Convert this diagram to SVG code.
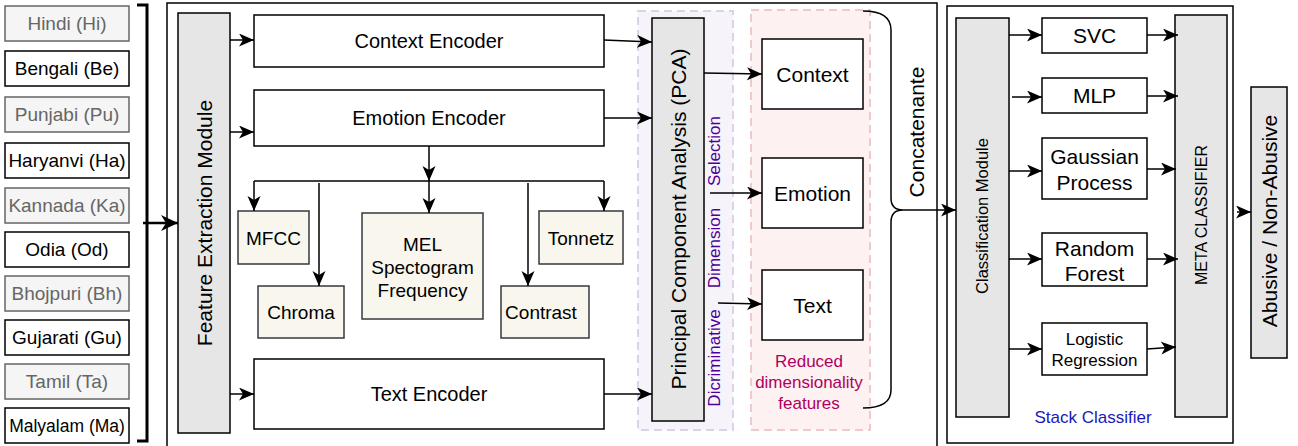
<svg xmlns="http://www.w3.org/2000/svg" width="1298" height="446" viewBox="0 0 1298 446">
<defs>
<marker id="ah" markerUnits="userSpaceOnUse" markerWidth="18" markerHeight="14" refX="15" refY="6.5" orient="auto"><path d="M0,0 L15,6.5 L0,13 L4,6.5 Z" fill="#000"/></marker>
<marker id="ahb" markerUnits="userSpaceOnUse" markerWidth="20" markerHeight="18" refX="17" refY="8" orient="auto"><path d="M0,0 L17,8 L0,16 L5,8 Z" fill="#000"/></marker>
<style>
text{font-family:"Liberation Sans",Arial,sans-serif;text-anchor:middle;dominant-baseline:central;fill:#000}
.lg{fill:#f5f5f5;stroke:#666;stroke-width:1.5}
.lgt{fill:#666}
.lb{fill:#fff;stroke:#000;stroke-width:1.5}
.box{fill:#fff;stroke:#000;stroke-width:1.5}
.mod{fill:#e6e6e6;stroke:#000;stroke-width:1.5}
.ft{fill:#f9f7ed;stroke:#36393d;stroke-width:1.5}
.c{fill:none;stroke:#000;stroke-width:1.5}
.a{fill:none;stroke:#000;stroke-width:1.5;marker-end:url(#ah)}
.f19{font-size:19px}.f20{font-size:20px}.f21{font-size:21px}.f17{font-size:17px}.f16{font-size:16px}
</style>
</defs>
<g id="outer-boxes">
<rect x="167" y="3" width="770" height="450" fill="#fff" stroke="#000" stroke-width="1.5"/>
<rect x="947" y="6" width="286" height="437" fill="#fff" stroke="#000" stroke-width="1.5"/>
</g>
<g id="regions">
<rect x="638" y="11" width="95" height="419" fill="#f6f4fa" stroke="#ddd3e8" stroke-width="2" stroke-dasharray="8 5"/>
<rect x="751" y="10" width="119" height="420" fill="#fdf2f1" stroke="#efcaca" stroke-width="2" stroke-dasharray="8 5"/>
</g>
<g id="languages">
<g id="hindi"><rect class="lg" x="5" y="6" width="124" height="35"/><text class="f19 lgt" x="67" y="23.5">Hindi (Hi)</text></g>
<g id="bengali"><rect class="lb" x="5" y="51" width="124" height="35"/><text class="f19" x="67" y="68.5">Bengali (Be)</text></g>
<g id="punjabi"><rect class="lg" x="5" y="97" width="124" height="35"/><text class="f19 lgt" x="67" y="114.5">Punjabi (Pu)</text></g>
<g id="haryanvi"><rect class="lb" x="5" y="143" width="124" height="35"/><text class="f19" x="67" y="160.5">Haryanvi (Ha)</text></g>
<g id="kannada"><rect class="lg" x="5" y="188" width="124" height="35"/><text class="f19 lgt" x="67" y="205.5">Kannada (Ka)</text></g>
<g id="odia"><rect class="lb" x="5" y="232" width="124" height="35"/><text class="f19" x="67" y="249.5">Odia (Od)</text></g>
<g id="bhojpuri"><rect class="lg" x="5" y="276" width="124" height="35"/><text class="f19 lgt" x="67" y="293.5">Bhojpuri (Bh)</text></g>
<g id="gujarati"><rect class="lb" x="5" y="320" width="124" height="35"/><text class="f19" x="67" y="337.5">Gujarati (Gu)</text></g>
<g id="tamil"><rect class="lg" x="5" y="364" width="124" height="35"/><text class="f19 lgt" x="67" y="381.5">Tamil (Ta)</text></g>
<g id="malyalam"><rect class="lb" x="5" y="408" width="124" height="35"/><text x="67" y="425.5" style="font-size:17.5px">Malyalam (Ma)</text></g>
</g>
<g id="feature-extraction"><rect class="mod" x="178" y="13" width="52" height="420"/><text class="f21" transform="translate(204,223) rotate(-90)">Feature Extraction Module</text></g>
<g id="context-encoder"><rect class="box" x="254" y="15" width="350" height="52"/><text class="f20" x="429" y="41">Context Encoder</text></g>
<g id="emotion-encoder"><rect class="box" x="254" y="90" width="350" height="56"/><text class="f20" x="429" y="118">Emotion Encoder</text></g>
<g id="text-encoder"><rect class="box" x="254" y="359" width="350" height="70"/><text class="f20" x="429" y="394">Text Encoder</text></g>
<g id="mfcc"><rect class="ft" x="238" y="211" width="71" height="53"/><text class="f19" x="273.5" y="238">MFCC</text></g>
<g id="chroma"><rect class="ft" x="258" y="286" width="86" height="52"/><text class="f19" x="301" y="312">Chroma</text></g>
<g id="mel"><rect class="ft" x="362" y="213" width="121" height="106"/><text class="f19" x="422.5" y="244">MEL</text><text class="f19" x="422.5" y="267">Spectogram</text><text class="f19" x="422.5" y="290">Frequency</text></g>
<g id="tonnetz"><rect class="ft" x="539" y="211" width="84" height="53"/><text class="f19" x="581" y="238">Tonnetz</text></g>
<g id="contrast"><rect class="ft" x="501" y="286" width="88" height="52"/><text class="f19" x="541" y="312">Contrast</text></g>
<g id="pca"><rect class="mod" x="652" y="18" width="52" height="403"/><text class="f21" transform="translate(678,219) rotate(-90)">Principal Component Analysis (PCA)</text></g>
<g id="dim-selection-label">
<text class="f17" style="fill:#4c0099" transform="translate(714,358) rotate(-90)">Dicriminative</text>
<text class="f17" style="fill:#4c0099" transform="translate(714,248) rotate(-90)">Dimension</text>
<text class="f17" style="fill:#4c0099" transform="translate(714,151) rotate(-90)">Selection</text>
</g>
<g id="context"><rect class="box" x="762" y="39" width="101" height="70"/><text class="f21" x="812.5" y="74">Context</text></g>
<g id="emotion"><rect class="box" x="762" y="158" width="101" height="70"/><text class="f21" x="812.5" y="193">Emotion</text></g>
<g id="text"><rect class="box" x="762" y="270" width="101" height="70"/><text class="f21" x="812.5" y="305">Text</text></g>
<g id="reduced-label">
<text class="f17" style="fill:#b0005f" x="809" y="361">Reduced</text>
<text class="f17" style="fill:#b0005f" x="809" y="382">dimensionality</text>
<text class="f17" style="fill:#b0005f" x="809" y="403">features</text>
</g>
<g id="concatenate-label"><text class="f21" transform="translate(916,132) rotate(-90)">Concatenante</text></g>
<g id="classification-module"><rect class="mod" x="956" y="18" width="53" height="399"/><text class="f16" style="font-size:16.5px" transform="translate(982,216) rotate(-90)">Classification Module</text></g>
<g id="svc"><rect class="box" x="1042" y="18" width="105" height="35"/><text class="f21" x="1094.5" y="35">SVC</text></g>
<g id="mlp"><rect class="box" x="1042" y="78" width="105" height="35"/><text class="f21" x="1094.5" y="95">MLP</text></g>
<g id="gaussian"><rect class="box" x="1042" y="138" width="105" height="61"/><text class="f21" x="1094.5" y="156">Gaussian</text><text class="f21" x="1094.5" y="182">Process</text></g>
<g id="random-forest"><rect class="box" x="1042" y="233" width="105" height="53"/><text class="f21" x="1094.5" y="248">Random</text><text class="f21" x="1094.5" y="273">Forest</text></g>
<g id="logistic"><rect class="box" x="1042" y="323" width="105" height="52"/><text class="f17" x="1094.5" y="339">Logistic</text><text class="f17" x="1094.5" y="360">Regression</text></g>
<g id="meta-classifier"><rect class="mod" x="1175" y="15" width="52" height="402"/><text class="f16" transform="translate(1201,215) rotate(-90)">META CLASSIFIER</text></g>
<g id="stack-label"><text class="f17" style="fill:#1a1ab8" x="1093" y="417">Stack Classifier</text></g>
<g id="output"><rect class="mod" x="1251" y="87" width="36" height="271"/><text class="f21" transform="translate(1269,221) rotate(-90)">Abusive / Non-Abusive</text></g>
<g id="connectors">
<path d="M137,5 L147,5 L147,441 L137,441" fill="none" stroke="#000" stroke-width="3"/>
<path d="M143,223 L178,223" fill="none" stroke="#000" stroke-width="2.5" marker-end="url(#ahb)"/>
<path class="a" d="M230,40 L254,40"/>
<path class="a" d="M230,132 L254,132"/>
<path class="a" d="M230,394 L254,394"/>
<path class="a" d="M429,146 L429,181"/>
<path class="c" d="M254,181 L604,181"/>
<path class="a" d="M254,181 L254,211"/>
<path class="a" d="M604,181 L604,211"/>
<path class="a" d="M429,181 L429,213"/>
<path class="a" d="M319,183 L319,286"/>
<path class="a" d="M528,183 L528,286"/>
<path class="a" d="M604,40 L652,42"/>
<path class="a" d="M604,118 L652,118"/>
<path class="a" d="M604,394 L652,394"/>
<path class="a" d="M704,73 L762,74"/>
<path class="a" d="M710,193 L762,193"/>
<path class="a" d="M718,303 L762,304"/>
<path class="c" d="M863,11 Q891,11 891,30 L891,198 Q891,210 903,210 Q891,210 891,222 L891,390 Q891,408 863,408"/>
<path class="a" d="M903,210 L956,210"/>
<path class="a" d="M1009,35 L1042,35"/>
<path class="a" d="M1012,97 L1042,97"/>
<path class="a" d="M1009,171 L1042,171"/>
<path class="a" d="M1009,259 L1042,259"/>
<path class="a" d="M1009,349 L1042,349"/>
<path class="a" d="M1147,35 L1178,35"/>
<path class="a" d="M1147,96 L1178,96"/>
<path class="a" d="M1147,169 L1176,169"/>
<path class="a" d="M1147,259 L1178,259"/>
<path class="a" d="M1147,349 L1176,347"/>
<path class="a" d="M1237,212 L1251,212"/>
</g>
</svg>
